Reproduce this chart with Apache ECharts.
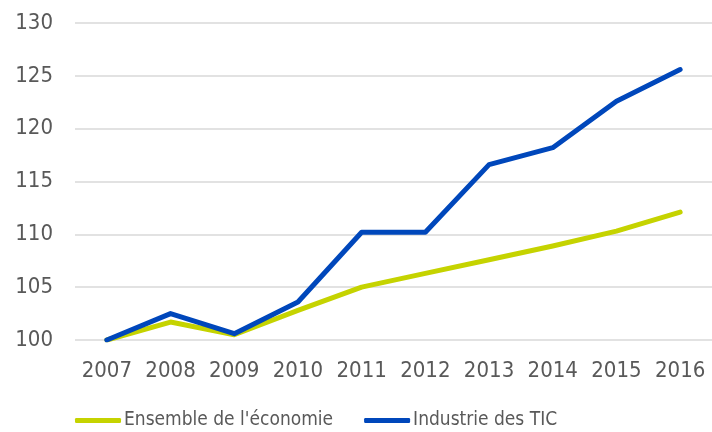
<!DOCTYPE html>
<html>
<head>
<meta charset="utf-8">
<script src="https://cdn.jsdelivr.net/npm/echarts@6/dist/echarts.min.js"></script>
<style>
  html, body { margin: 0; padding: 0; background: #fff; }
  #chart { width: 712px; height: 432px; }
</style>
</head>
<body>
<div id="chart"></div>
<script>
const years = ['2007', '2008', '2009', '2010', '2011', '2012', '2013', '2014', '2015', '2016'];
const economie = [100, 101.7, 100.5, 102.8, 105.0, 106.3, 107.6, 108.9, 110.3, 112.1];
const tic = [100, 102.5, 100.6, 103.6, 110.2, 110.2, 116.6, 118.2, 122.6, 125.6];

const FONT = '"DejaVu Sans Condensed", "DejaVu Sans"';
const GREY = '#595959';

const chart = echarts.init(document.getElementById('chart'));
chart.setOption({
  animation: false,
  textStyle: { fontFamily: FONT },
  grid: { left: 75, top: 23, width: 645, height: 317, containLabel: false },
  legend: {
    bottom: 2,
    left: 75,
    padding: 0,
    icon: 'roundRect',
    itemWidth: 46,
    itemHeight: 5,
    itemGap: 31,
    textStyle: { fontFamily: FONT, fontSize: 19, color: GREY, padding: [0, 0, 0, -2] },
    data: ["Ensemble de l'économie", 'Industrie des TIC']
  },
  xAxis: {
    type: 'category',
    data: years,
    boundaryGap: true,
    axisLine: { show: false },
    axisTick: { show: false },
    axisLabel: { color: GREY, fontSize: 22, margin: 20, fontFamily: FONT, interval: 0, hideOverlap: false }
  },
  yAxis: {
    type: 'value',
    min: 100,
    max: 130,
    interval: 5,
    axisLine: { show: false },
    axisTick: { show: false },
    axisLabel: { color: GREY, fontSize: 22, margin: 22, fontFamily: FONT },
    splitLine: { lineStyle: { color: '#d9d9d9', width: 1.5 } }
  },
  series: [
    {
      name: "Ensemble de l'économie",
      type: 'line',
      data: economie,
      symbol: 'none',
      itemStyle: { color: '#c5d300' },
      lineStyle: { color: '#c5d300', width: 5, cap: 'round', join: 'round' }
    },
    {
      name: 'Industrie des TIC',
      type: 'line',
      data: tic,
      symbol: 'none',
      itemStyle: { color: '#0047bb' },
      lineStyle: { color: '#0047bb', width: 5, cap: 'round', join: 'round' }
    }
  ]
});
</script>
</body>
</html>
